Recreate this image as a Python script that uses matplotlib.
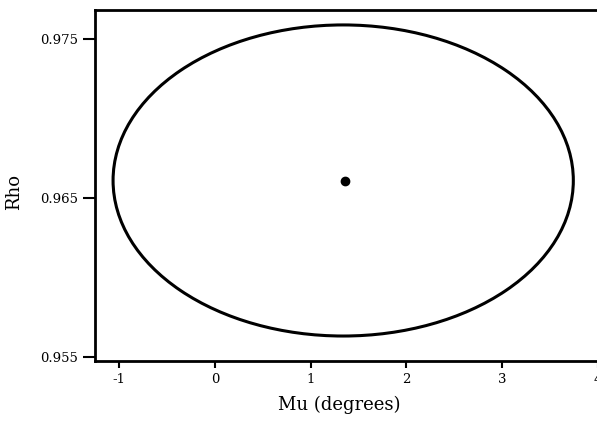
import matplotlib
matplotlib.use("Agg")
import matplotlib.pyplot as plt
from matplotlib.patches import Ellipse

# estimate and confidence ellipse
mu_hat = 1.36
rho_hat = 0.96607
ell_center = (1.34, 0.9661)
ell_width = 4.81      # full extent in Mu
ell_height = 0.01956  # full extent in Rho

x_ticks = [-1, 0, 1, 2, 3, 4]
y_ticks = [0.955, 0.965, 0.975]
y_tick_labels = ['0.955', '0.965', '0.975']

plt.rcParams['font.family'] = ['DejaVu Serif']
plt.rcParams['axes.unicode_minus'] = False

fig = plt.figure(figsize=(5.97, 4.23), dpi=100)
ax = fig.add_axes([0.1583, 0.1466, 0.891, 0.8298])

ax.add_patch(Ellipse(ell_center, ell_width, ell_height, fill=False,
                     edgecolor='black', linewidth=2.2))
ax.plot([mu_hat], [rho_hat], 'o', color='black', markersize=6)

ax.set_xlim(-1.259, 4.3)
ax.set_ylim(0.95475, 0.97682)
ax.set_xticks(x_ticks)
ax.set_yticks(y_ticks)
ax.set_yticklabels(y_tick_labels)
ax.tick_params(direction='out', width=1.5, labelsize=9.5)
ax.tick_params(axis='y', length=9, pad=3)
ax.tick_params(axis='x', length=5, pad=4)

for s in ax.spines.values():
    s.set_linewidth(2)
ax.spines['right'].set_visible(False)

ax.set_xlabel('Mu (degrees)', fontsize=13)
ax.set_ylabel('Rho', fontsize=13)
ax.xaxis.set_label_coords(0.461, -0.1)
ax.yaxis.set_label_coords(-0.135, 0.481)

fig.savefig('out.png', dpi=100)
